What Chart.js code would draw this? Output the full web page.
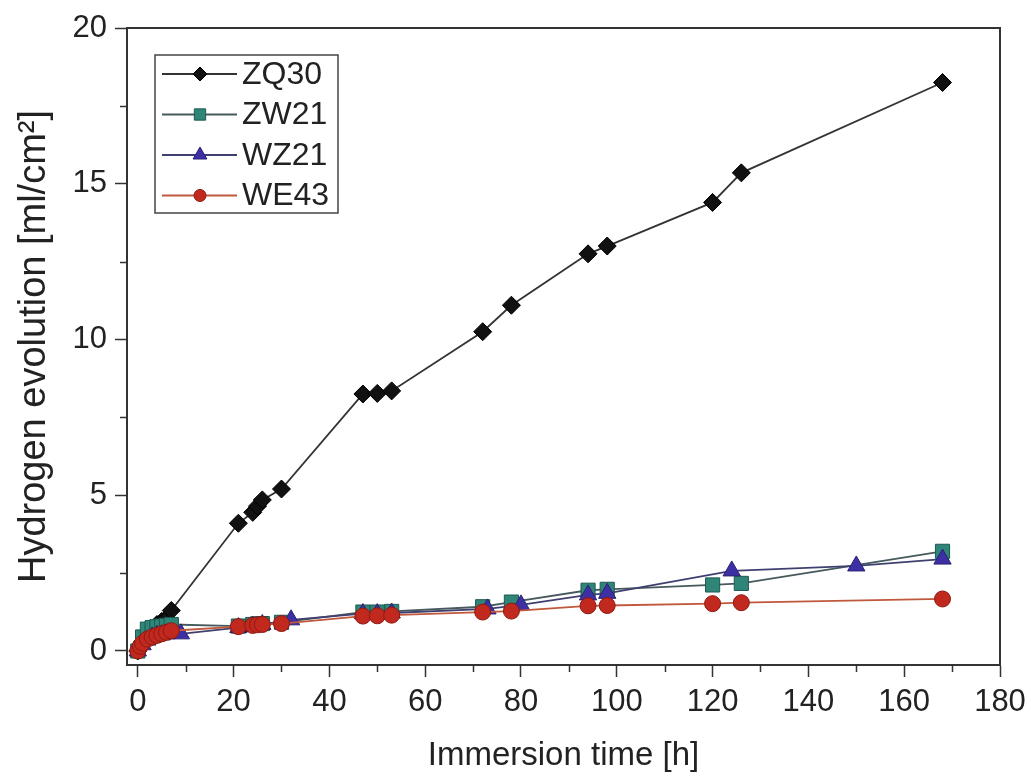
<!DOCTYPE html>
<html>
<head>
<meta charset="utf-8">
<script src="https://cdn.jsdelivr.net/npm/chart.js@4.4.1/dist/chart.umd.min.js"></script>
<style>
  body { margin: 0; background: #fff; }
</style>
</head>
<body>
<canvas id="myChart" width="1031" height="778"></canvas>
<script>
// alloys
const seriesNames = ['ZQ30', 'ZW21', 'WZ21', 'WE43'];

// immersion time [h] / hydrogen evolution [ml/cm2]
const zq30Time = [0, 1, 2, 3, 4, 5, 6, 7, 21, 24, 25, 26, 30, 47, 50, 53, 72, 78, 94, 98, 120, 126, 168];
const zq30Vol  = [0, 0.3, 0.5, 0.7, 0.85, 0.95, 1.05, 1.3, 4.1, 4.45, 4.65, 4.85, 5.2, 8.25, 8.27, 8.35, 10.25, 11.1, 12.75, 13.0, 14.4, 15.35, 18.25];

const zw21Time = [0, 1, 2, 3, 4, 5, 6, 7, 21, 24, 25, 26, 30, 47, 50, 53, 72, 78, 94, 98, 120, 126, 168];
const zw21Vol  = [0, 0.45, 0.7, 0.75, 0.78, 0.8, 0.82, 0.85, 0.8, 0.85, 0.87, 0.88, 0.92, 1.25, 1.25, 1.27, 1.42, 1.57, 1.95, 1.98, 2.12, 2.17, 3.2];

const wz21Time = [0, 1, 2, 3, 4, 5, 6, 9, 21, 24, 26, 32, 47, 50, 53, 73, 80, 94, 98, 124, 150, 168];
const wz21Vol  = [0, 0.2, 0.35, 0.45, 0.5, 0.52, 0.55, 0.55, 0.75, 0.8, 0.85, 1.0, 1.2, 1.2, 1.22, 1.35, 1.48, 1.8, 1.85, 2.57, 2.73, 2.95];

const we43Time = [0, 0.5, 1, 2, 3, 4, 5, 6, 7, 21, 24, 25, 26, 30, 47, 50, 53, 72, 78, 94, 98, 120, 126, 168];
const we43Vol  = [0, 0.15, 0.25, 0.38, 0.45, 0.5, 0.55, 0.6, 0.65, 0.78, 0.82, 0.84, 0.85, 0.88, 1.12, 1.13, 1.15, 1.25, 1.28, 1.45, 1.46, 1.52, 1.55, 1.67];

const xTicks = [0, 20, 40, 60, 80, 100, 120, 140, 160, 180];
const yTicks = [0, 5, 10, 15, 20];

const FONT = 'Liberation Sans, Arial, sans-serif';

function pts(xs, ys) {
  return xs.map((t, i) => ({ x: t, y: ys[i] }));
}

const styles = [
  { style: 'rectRot',  radius: 9,  fill: '#111111', border: '#000000', line: '#333333' },
  { style: 'rect',     radius: 10, fill: '#2f8577', border: '#1d5a50', line: '#46595c' },
  { style: 'triangle', radius: 10, fill: '#3d30a4', border: '#2a2170', line: '#404070' },
  { style: 'circle',   radius: 8,  fill: '#c1281e', border: '#8e1a12', line: '#c0583c' }
];

const seriesData = [
  pts(zq30Time, zq30Vol),
  pts(zw21Time, zw21Vol),
  pts(wz21Time, wz21Vol),
  pts(we43Time, we43Vol)
];

// simple marker, used for the legend box
function drawMarker(ctx, s, cx, cy, r) {
  ctx.fillStyle = s.fill;
  ctx.strokeStyle = s.border;
  ctx.lineWidth = 1;
  ctx.beginPath();
  if (s.style === 'circle') {
    ctx.arc(cx, cy, r, 0, Math.PI * 2);
  } else if (s.style === 'rect') {
    const h = r * Math.SQRT1_2;
    ctx.rect(cx - h, cy - h, 2 * h, 2 * h);
  } else if (s.style === 'rectRot') {
    ctx.moveTo(cx, cy - r); ctx.lineTo(cx + r, cy); ctx.lineTo(cx, cy + r); ctx.lineTo(cx - r, cy);
    ctx.closePath();
  } else {
    ctx.moveTo(cx, cy - r);
    ctx.lineTo(cx + r * 0.866, cy + r * 0.5);
    ctx.lineTo(cx - r * 0.866, cy + r * 0.5);
    ctx.closePath();
  }
  ctx.fill();
  ctx.stroke();
}

const frameAndLegend = {
  id: 'frameAndLegend',
  afterDraw(chart) {
    const { ctx, chartArea: a, scales } = chart;
    const x = scales.x, y = scales.y;
    ctx.save();
    // box round the plot
    ctx.strokeStyle = '#333';
    ctx.lineWidth = 2;
    ctx.strokeRect(a.left, a.top, a.right - a.left, a.bottom - a.top);

    // minor ticks
    ctx.lineWidth = 1.5;
    for (let i = 0; i < xTicks.length - 1; i++) {
      const px = Math.round(x.getPixelForValue((xTicks[i] + xTicks[i + 1]) / 2)) + 0.5;
      ctx.beginPath(); ctx.moveTo(px, a.bottom); ctx.lineTo(px, a.bottom + 7); ctx.stroke();
    }
    for (let i = 0; i < yTicks.length - 1; i++) {
      const py = Math.round(y.getPixelForValue((yTicks[i] + yTicks[i + 1]) / 2)) + 0.5;
      ctx.beginPath(); ctx.moveTo(a.left, py); ctx.lineTo(a.left - 7, py); ctx.stroke();
    }

    // legend
    const bx = a.left + 28, by = a.top + 27, bw = 183, bh = 158;
    ctx.fillStyle = '#fff';
    ctx.fillRect(bx, by, bw, bh);
    ctx.strokeStyle = '#444';
    ctx.lineWidth = 1.5;
    ctx.strokeRect(bx, by, bw, bh);
    ctx.font = '32px ' + FONT;
    ctx.textBaseline = 'middle';
    seriesNames.forEach((name, i) => {
      const s = styles[i];
      const cy = by + 19 + i * 40.5;
      ctx.strokeStyle = s.line;
      ctx.lineWidth = 1.8;
      ctx.beginPath(); ctx.moveTo(bx + 7, cy); ctx.lineTo(bx + 82, cy); ctx.stroke();
      drawMarker(ctx, s, bx + 45, cy, s.radius - 2);
      ctx.fillStyle = '#222';
      ctx.fillText(name, bx + 87, cy + 1);
    });
    ctx.restore();
  }
};

const ctx = document.getElementById('myChart');
new Chart(ctx, {
  type: 'line',
  data: {
    datasets: seriesNames.map((name, i) => ({
      label: name,
      data: seriesData[i],
      order: 3 - i,
      borderColor: styles[i].line,
      borderWidth: 1.8,
      pointStyle: styles[i].style,
      pointRadius: styles[i].radius,
      pointBackgroundColor: styles[i].fill,
      pointBorderColor: styles[i].border,
      pointBorderWidth: 1,
      fill: false,
      tension: 0
    }))
  },
  options: {
    responsive: false,
    animation: false,
    devicePixelRatio: 1,
    layout: { padding: { top: 28, right: 31, left: 0, bottom: 0 } },
    plugins: {
      legend: { display: false },
      tooltip: { enabled: false }
    },
    scales: {
      x: {
        type: 'linear',
        min: -2.25,
        max: 180,
        afterBuildTicks: (scale) => { scale.ticks = xTicks.map(v => ({ value: v })); },
        afterFit: (scale) => { scale.height = 113; scale.paddingLeft = 0; scale.paddingRight = 0; },
        grid: { drawOnChartArea: false, drawTicks: true, tickLength: 12, tickColor: '#333', tickWidth: 1.5 },
        border: { display: true, color: '#333', width: 2 },
        ticks: { font: { family: FONT, size: 31 }, color: '#222', padding: 7, maxRotation: 0 },
        title: { display: true, text: 'Immersion time [h]', font: { family: FONT, size: 33 }, color: '#222', padding: { top: 0, bottom: 2 } }
      },
      y: {
        type: 'linear',
        min: -0.45,
        max: 20,
        afterBuildTicks: (scale) => { scale.ticks = yTicks.map(v => ({ value: v })); },
        afterFit: (scale) => { scale.width = 127; },
        grid: { drawOnChartArea: false, drawTicks: true, tickLength: 12, tickColor: '#333', tickWidth: 1.5 },
        border: { display: true, color: '#333', width: 2 },
        ticks: { font: { family: FONT, size: 31 }, color: '#222', padding: 8 },
        title: { display: true, text: 'Hydrogen evolution [ml/cm²]', font: { family: FONT, size: 38 }, color: '#222', padding: { top: 12, bottom: 0 } }
      }
    }
  },
  plugins: [frameAndLegend]
});
</script>
</body>
</html>
